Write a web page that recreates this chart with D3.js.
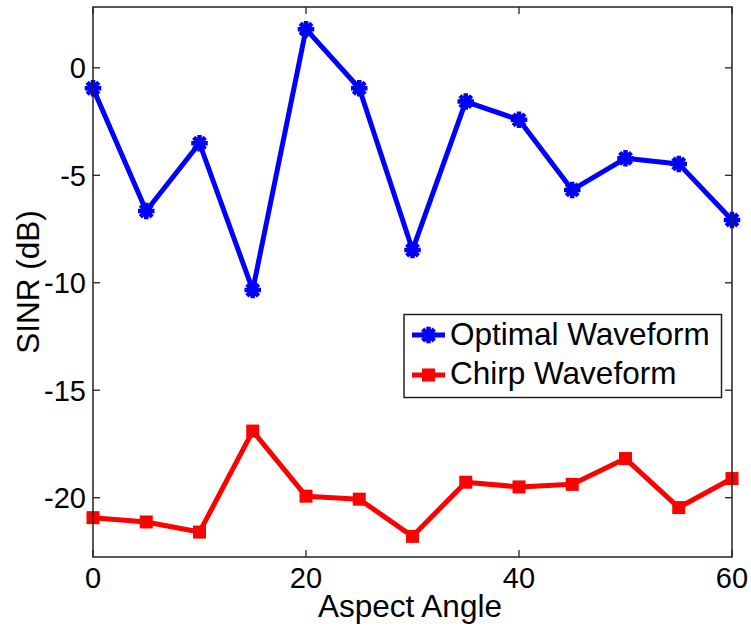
<!DOCTYPE html>
<html>
<head>
<meta charset="utf-8">
<script src="https://cdn.jsdelivr.net/npm/d3@7"></script>
<style>
  html, body { margin: 0; padding: 0; background: #fff; }
  svg { display: block; }
  text { font-family: "Liberation Sans", Arial, sans-serif; fill: #000; }
</style>
</head>
<body>
<svg id="chart" width="751" height="630"></svg>
<script>
// Aspect angles (degrees)
const angles = [0, 5, 10, 15, 20, 25, 30, 35, 40, 45, 50, 55, 60];
// SINR (dB) per waveform
const optimalSINR = [-0.95, -6.66, -3.51, -10.34, 1.80, -0.95, -8.48, -1.57, -2.42, -5.68, -4.21, -4.47, -7.08];
const chirpSINR = [-20.93, -21.13, -21.60, -16.90, -19.93, -20.07, -21.80, -19.28, -19.50, -19.38, -18.18, -20.46, -19.11];
// Axis ticks
const xTicks = [0, 20, 40, 60];
const yTicks = [0, -5, -10, -15, -20];
const seriesNames = ["Optimal Waveform", "Chirp Waveform"];

(function () {
  const svg = d3.select("#chart");
  const plotL = 93, plotR = 732, plotT = 7, plotB = 557;

  const x = d3.scaleLinear().domain([0, 60]).range([plotL, plotR]);
  const y = d3.scaleLinear().domain([-22.76, 2.83]).range([plotB, plotT]);

  const tickFont = 29;
  const labelFont = 31.5;
  const axisColor = "#222";
  const tickLen = 7;

  // Ticks on all four sides (boxed axes, ticks pointing inward)
  const gTicks = svg.append("g").attr("stroke", axisColor).attr("stroke-width", 1.3);
  xTicks.forEach(v => {
    gTicks.append("line").attr("x1", x(v)).attr("x2", x(v)).attr("y1", plotB).attr("y2", plotB - tickLen);
    gTicks.append("line").attr("x1", x(v)).attr("x2", x(v)).attr("y1", plotT).attr("y2", plotT + tickLen);
  });
  yTicks.forEach(v => {
    gTicks.append("line").attr("x1", plotL).attr("x2", plotL + tickLen).attr("y1", y(v)).attr("y2", y(v));
    gTicks.append("line").attr("x1", plotR).attr("x2", plotR - tickLen).attr("y1", y(v)).attr("y2", y(v));
  });

  // Tick labels
  xTicks.forEach(v => {
    svg.append("text").attr("x", x(v)).attr("y", 588)
      .attr("text-anchor", "middle").attr("font-size", tickFont).text(v);
  });
  yTicks.forEach(v => {
    svg.append("text").attr("x", 86).attr("y", y(v) + 10.5)
      .attr("text-anchor", "end").attr("font-size", tickFont).text(v === 0 ? "0" : "-" + Math.abs(v));
  });

  // Axis titles
  svg.append("text").attr("x", 410).attr("y", 617)
    .attr("text-anchor", "middle").attr("font-size", labelFont).text("Aspect Angle");
  svg.append("text").attr("transform", `translate(38.5,${(plotT + plotB) / 2}) rotate(-90)`)
    .attr("text-anchor", "middle").attr("font-size", labelFont).text("SINR (dB)");

  // Asterisk marker path centred on origin
  function starPath(r) {
    const d = r * Math.SQRT1_2;
    return `M${-r},0L${r},0M0,${-r}L0,${r}M${-d},${-d}L${d},${d}M${-d},${d}L${d},${-d}`;
  }

  const line = d3.line().x(d => x(d[0])).y(d => y(d[1]));

  function drawSeries(vals, color, marker) {
    const pts = angles.map((a, i) => [a, vals[i]]);
    svg.append("path").datum(pts).attr("d", line)
      .attr("fill", "none").attr("stroke", color).attr("stroke-width", 5)
      .attr("stroke-linejoin", "round");
    const g = svg.append("g");
    pts.forEach(p => {
      if (marker === "star") {
        g.append("path").attr("d", starPath(6))
          .attr("transform", `translate(${x(p[0])},${y(p[1])})`)
          .attr("stroke", color).attr("stroke-width", 4.5).attr("fill", "none")
          .attr("stroke-linecap", "square");
      } else {
        g.append("rect").attr("x", x(p[0]) - 6.5).attr("y", y(p[1]) - 6.5)
          .attr("width", 13).attr("height", 13).attr("fill", color);
      }
    });
  }

  drawSeries(chirpSINR, "#ff0000", "square");
  drawSeries(optimalSINR, "#0000ff", "star");

  // Axes box
  svg.append("rect").attr("x", plotL).attr("y", plotT)
    .attr("width", plotR - plotL).attr("height", plotB - plotT)
    .attr("fill", "none").attr("stroke", axisColor).attr("stroke-width", 1.5);

  // Legend
  const lg = svg.append("g");
  lg.append("rect").attr("x", 404).attr("y", 314.5).attr("width", 317.5).attr("height", 83)
    .attr("fill", "#fff").attr("stroke", axisColor).attr("stroke-width", 1.5);
  const legendRows = [
    { name: seriesNames[0], color: "#0000ff", marker: "star", cy: 335, base: 345 },
    { name: seriesNames[1], color: "#ff0000", marker: "square", cy: 375, base: 384 }
  ];
  legendRows.forEach(r => {
    lg.append("line").attr("x1", 412).attr("x2", 445).attr("y1", r.cy).attr("y2", r.cy)
      .attr("stroke", r.color).attr("stroke-width", 5);
    if (r.marker === "star") {
      lg.append("path").attr("d", starPath(6)).attr("transform", `translate(428.5,${r.cy})`)
        .attr("stroke", r.color).attr("stroke-width", 4.5).attr("fill", "none")
        .attr("stroke-linecap", "square");
    } else {
      lg.append("rect").attr("x", 422).attr("y", r.cy - 6.5).attr("width", 13).attr("height", 13)
        .attr("fill", r.color);
    }
    lg.append("text").attr("x", 450).attr("y", r.base).attr("font-size", labelFont).text(r.name);
  });
})();
</script>
</body>
</html>
